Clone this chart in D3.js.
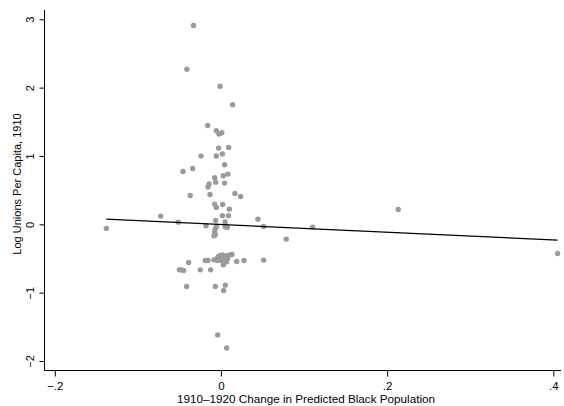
<!DOCTYPE html>
<html>
<head>
<meta charset="utf-8">
<script src="https://cdn.jsdelivr.net/npm/d3@7"></script>
<style>
  html, body { margin: 0; padding: 0; background: #fff; }
  svg { display: block; font-family: "Liberation Sans", Arial, sans-serif; }
</style>
</head>
<body>
<svg id="chart" width="564" height="406"></svg>
<script>
// Change in predicted Black population (x) vs. log unions per capita (y)
const changeBlackPop = [
  -0.033, -0.041, -0.001, 0.014, -0.016, -0.0056, -0.0024, 0.001, 0.0092, -0.0028,
  -0.024, -0.0056, 0.0016, 0.0044, -0.0457, -0.034, -0.0076, 0.0028, 0.0084, -0.0143,
  -0.0156, -0.0064, 0.0044, -0.037, -0.0132, 0.0168, 0.0237, -0.0076, -0.0056, 0.002,
  0.010, 0.0017, 0.009, -0.0726, -0.0514, 0.0445, 0.0514, -0.0064, -0.018, -0.0052,
  0.005, 0.005, 0.0076, -0.0076, -0.0068, -0.0084, -0.007, -0.138, 0.0786, 0.1103,
  0.2134, 0.4052, 0.0514,
  -0.0389, -0.0478, -0.050, -0.045, -0.025, -0.0124, -0.0189, -0.0156, -0.0084, -0.0044,
  -0.0012, 0.002, 0.006, 0.0108, 0.0132, 0.0036, 0.0068, -0.0044, 0.0028, 0.0189,
  0.0277, -0.0413, -0.0068, 0.0052, 0.0032, -0.004, 0.0068,
  -0.001, 0.004, 0.008, -0.003, 0.0
];
const logUnions = [
  2.91, 2.27, 2.02, 1.75, 1.445, 1.37, 1.32, 1.34, 1.125, 1.115,
  0.998, 1.0, 1.028, 0.871, 0.773, 0.817, 0.681, 0.71, 0.735, 0.59,
  0.545, 0.617, 0.603, 0.422, 0.436, 0.451, 0.407, 0.296, 0.246, 0.29,
  0.222, 0.127, 0.127, 0.12, 0.032, 0.076, -0.032, 0.056, -0.022, -0.032,
  0.035, -0.037, -0.047, -0.12, -0.154, -0.168, -0.07, -0.06, -0.217, -0.041,
  0.217, -0.427, -0.524,
  -0.559, -0.666, -0.666, -0.676, -0.666, -0.666, -0.53, -0.53, -0.52, -0.495,
  -0.461, -0.447, -0.461, -0.447, -0.442, -0.52, -0.549, -0.53, -0.593, -0.545,
  -0.53, -0.91, -0.91, -0.89, -0.969, -1.618, -1.808,
  -0.5, -0.48, -0.5, -0.47, -0.53
];

// Linear fit, drawn over the range of the data
const fitX = [-0.138, 0.4052];
const fitY = [0.075, -0.231];

const xTicks = [-0.2, 0, 0.2, 0.4];
const xTickLabels = ["\u2212.2", "0", ".2", ".4"];
const yTicks = [-2, -1, 0, 1, 2, 3];
const yTickLabels = ["\u22122", "\u22121", "0", "1", "2", "3"];

const xTitle = "1910\u20131920 Change in Predicted Black Population";
const yTitle = "Log Unions Per Capita, 1910";

const svg = d3.select("#chart");

const x = d3.scaleLinear().domain([-0.2, 0.4]).range([54.8, 553.3]);
const y = d3.scaleLinear().domain([-2, 3]).range([361, 19.3]);

const axisLeftX = 44.5, axisBottomY = 370.5;

// Scatter points
const pts = changeBlackPop.map((v, i) => ({ x: v, y: logUnions[i] }));
svg.append("g")
  .selectAll("circle")
  .data(pts)
  .join("circle")
  .attr("cx", d => x(d.x))
  .attr("cy", d => y(d.y))
  .attr("r", 2.7)
  .attr("fill", "#9a9a9a");

// Fit line
svg.append("line")
  .attr("x1", x(fitX[0])).attr("y1", y(fitY[0]))
  .attr("x2", x(fitX[1])).attr("y2", y(fitY[1]))
  .attr("stroke", "#000")
  .attr("stroke-width", 1.3);

// Y axis
const yAxis = d3.axisLeft(y)
  .tickValues(yTicks)
  .tickFormat((d, i) => yTickLabels[i])
  .tickSize(5)
  .tickPadding(0);
const gy = svg.append("g")
  .attr("transform", `translate(${axisLeftX},0)`)
  .call(yAxis);
gy.select(".domain").attr("d", `M0,10V${axisBottomY}`).attr("stroke", "#000");
gy.selectAll(".tick line").attr("stroke", "#000");
gy.selectAll(".tick text")
  .attr("x", null).attr("dy", null)
  .attr("transform", "translate(-10.5,0) rotate(-90)")
  .attr("text-anchor", "middle")
  .attr("font-size", 11)
  .attr("font-family", "Liberation Sans, Arial, sans-serif")
  .attr("fill", "#000");

// X axis
const xAxis = d3.axisBottom(x)
  .tickValues(xTicks)
  .tickFormat((d, i) => xTickLabels[i])
  .tickSize(6)
  .tickPadding(0);
const gx = svg.append("g")
  .attr("transform", `translate(0,${axisBottomY})`)
  .call(xAxis);
gx.select(".domain").attr("d", `M${axisLeftX},0H561`).attr("stroke", "#000");
gx.selectAll(".tick line").attr("stroke", "#000");
gx.selectAll(".tick text")
  .attr("y", 19).attr("dy", null)
  .attr("font-size", 11.5)
  .attr("font-family", "Liberation Sans, Arial, sans-serif")
  .attr("fill", "#000");

// Axis titles
svg.append("text")
  .attr("x", 306).attr("y", 403)
  .attr("text-anchor", "middle")
  .attr("font-size", 11.7)
  .text(xTitle);

svg.append("text")
  .attr("transform", "translate(21,184) rotate(-90)")
  .attr("text-anchor", "middle")
  .attr("font-size", 11)
  .text(yTitle);
</script>
</body>
</html>
